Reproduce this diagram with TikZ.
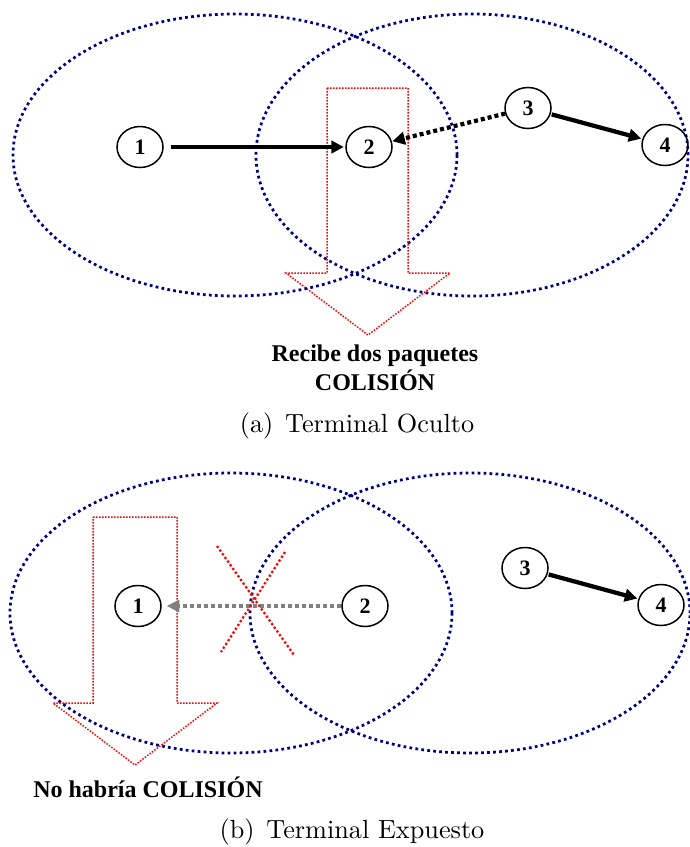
\documentclass[tikz,border=0pt]{standalone}
\usepackage{fontspec}
\newfontfamily\tnr{Liberation Serif}
\usetikzlibrary{arrows.meta,shapes.geometric}
\definecolor{rangeblue}{RGB}{0,0,128}
\definecolor{hotred}{RGB}{255,0,0}
\definecolor{msggray}{RGB}{128,128,128}
\begin{document}
\begin{tikzpicture}[x=0.4pt,y=-0.4pt,
  coverage/.style={draw=rangeblue, line width=1.1pt, dash pattern=on 1.1pt off 1.3pt},
  redarrow/.style={draw=hotred, line width=0.6pt, dash pattern=on 0.6pt off 0.6pt},
  redx/.style={draw=hotred, line width=0.9pt, dash pattern=on 0.9pt off 0.9pt},
  station/.style={ellipse, draw, line width=0.6pt, minimum width=18.4pt, minimum height=16.4pt, inner sep=0pt, font=\tnr\bfseries\fontsize{8.8}{10}\selectfont},
  msg/.style={line width=1.7pt, -{Triangle[length=5pt,width=5pt]}},
  dotmsg/.style={msg, dash pattern=on 1.6pt off 1.2pt},
  graymsg/.style={draw=msggray, line width=1.6pt, dash pattern=on 1.6pt off 1.2pt, -{Triangle[length=5pt,width=4.8pt]}},
  boldnote/.style={font=\tnr\bfseries\fontsize{9.6}{11.6}\selectfont, anchor=base},
  subcap/.style={font=\fontsize{10.5}{12}\selectfont, anchor=base}]
\useasboundingbox (0,0) rectangle (690,847);

% ---------- (a) Terminal Oculto ----------
\draw[coverage] (235,155) ellipse [x radius=88.8pt, y radius=56.4pt];
\draw[coverage] (472,155) ellipse [x radius=86.4pt, y radius=56.4pt];
\draw[redarrow] (327,88) -- (408,88) -- (408,273) -- (450,273) -- (368,335)
  -- (286,273) -- (327,273) -- cycle;

\node[station] (a1) at (140,147) {1};
\node[station] (a2) at (369,147) {2};
\node[station] (a3) at (528,108) {3};
\node[station] (a4) at (665,145) {4};

\draw[msg, shorten <=2.8pt, shorten >=0.6pt] (a1) -- (a2);
\draw[dotmsg, shorten >=0.2pt] (a3) -- (a2);
\draw[msg, shorten <=0.4pt, shorten >=0.4pt] (a3) -- (a4);

\node[boldnote] (ta1) at (375,361) {Recibe dos paquetes};
\node[boldnote] (ta2) at (375,390) {COLISIÓN};
\node[subcap] (capa) at (357,432) {(a)\hspace{0.45em}Terminal Oculto};

% ---------- (b) Terminal Expuesto ----------
\draw[coverage] (231,613) ellipse [x radius=88.4pt, y radius=56pt];
\draw[coverage] (470,613) ellipse [x radius=88pt, y radius=56pt];
\draw[redarrow] (93,517) -- (177,517) -- (177,703) -- (217,703) -- (135,765)
  -- (53,703) -- (93,703) -- cycle;

\node[station] (b1) at (138,606) {1};
\node[station] (b2) at (365,606) {2};
\node[station] (b3) at (525,568) {3};
\node[station] (b4) at (661,605) {4};

\draw[graymsg, shorten >=2pt] (b2) -- (b1);
\draw[msg, shorten <=0.4pt, shorten >=0.4pt] (b3) -- (b4);

\draw[redx] (217,546) -- (294,655);
\draw[redx] (285,552) -- (221,652);

\node[boldnote] (tb1) at (148,797) {No habría COLISIÓN};
\node[subcap] (capb) at (352,838) {(b)\hspace{0.45em}Terminal Expuesto};
\end{tikzpicture}
\end{document}
